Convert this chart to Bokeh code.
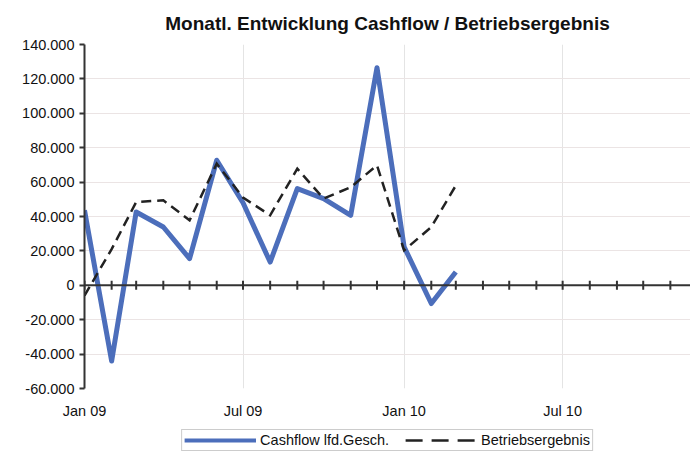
import math
from datetime import datetime, timedelta
import pandas as pd
from bokeh.plotting import figure
from bokeh.layouts import column
from bokeh.models import (MonthsTicker, DatetimeTickFormatter, FixedTicker, Span,
                          CustomJSTickFormatter, Legend, LegendItem, Range1d, ColumnDataSource)
from bokeh.embed import file_html
from bokeh.resources import INLINE

# ---- data ----
months = ["2009-01", "2009-02", "2009-03", "2009-04", "2009-05", "2009-06", "2009-07",
          "2009-08", "2009-09", "2009-10", "2009-11", "2009-12", "2010-01", "2010-02", "2010-03"]
cashflow = [43600, -44000, 42600, 33900, 15500, 72700, 48000, 13500, 56200, 50400, 40700,
            126500, 22300, -10600, 7700]
betriebsergebnis = [-6000, 21000, 48400, 49400, 37800, 70700, 51000, 40700, 67800, 50400,
                    57000, 69800, 20300, 33900, 58000]
y_ticks = [-60000, -40000, -20000, 0, 20000, 40000, 60000, 80000, 100000, 120000, 140000]
title_text = "Monatl. Entwicklung Cashflow / Betriebsergebnis"
label_cash = "Cashflow lfd.Gesch."
label_betr = "Betriebsergebnis"

dates = [datetime.strptime(m, "%Y-%m") for m in months]
src = ColumnDataSource(dict(x=dates, cash=cashflow, betr=betriebsergebnis))

FONT = "Liberation Sans"
BLUE = "#4c6ebb"
DARK = "#222222"
x_start = datetime(2009, 1, 1)
x_end = x_start + timedelta(days=692)
month_ticks = list(pd.date_range(x_start, x_end, freq="MS").to_pydatetime())

p = figure(width=690, height=425, x_axis_type="datetime",
           x_range=Range1d(x_start, x_end), y_range=Range1d(y_ticks[0], y_ticks[-1]),
           output_backend="svg", toolbar_location=None,
           min_border_left=84, min_border_right=0, min_border_top=43, min_border_bottom=37)
p.outline_line_color = None
p.background_fill_color = "white"
p.border_fill_color = "white"

# title
p.title.text = title_text
p.title.align = "center"
p.title.text_font = FONT
p.title.text_font_size = "19px"
p.title.text_font_style = "bold"
p.title.text_color = "#111111"
p.title.standoff = 21

# y axis
yax = p.yaxis[0]
yax.ticker = FixedTicker(ticks=y_ticks)
yax.formatter = CustomJSTickFormatter(code="""
const s = Math.round(Math.abs(tick)).toString().replace(/\\B(?=(\\d{3})+(?!\\d))/g, '.');
return (tick < 0 ? '-' : '') + s;
""")
yax.axis_line_color = "#333333"
yax.axis_line_width = 2
yax.major_tick_line_color = "#333333"
yax.major_tick_line_width = 2
yax.major_tick_out = 5
yax.major_tick_in = 0
yax.minor_tick_line_color = None
yax.major_label_text_font = FONT
yax.major_label_text_font_size = "14.5px"
yax.major_label_text_color = "#111111"
yax.major_label_standoff = 5

# bottom date labels
xax = p.xaxis[0]
xax.ticker = MonthsTicker(months=[0, 6])
xax.formatter = DatetimeTickFormatter(months="%b %y", days="%b %y", years="%b %y")
xax.axis_line_color = None
xax.major_tick_line_color = None
xax.minor_tick_line_color = None
xax.major_label_text_font = FONT
xax.major_label_text_font_size = "14.5px"
xax.major_label_text_color = "#111111"
xax.major_label_standoff = 8

# grids
p.xgrid.ticker = MonthsTicker(months=[0, 6])
p.xgrid.grid_line_color = "#e4e4e4"
p.xgrid.grid_line_width = 1
p.ygrid.ticker = FixedTicker(ticks=y_ticks)
p.ygrid.grid_line_color = "#ebe4e4"
p.ygrid.grid_line_width = 1

# zero line with monthly ticks
p.add_layout(Span(location=0, dimension="width", line_color="#333333", line_width=2))
p.scatter(x=month_ticks, y=[0] * len(month_ticks), marker="dash", angle=math.pi / 2,
          size=9, line_color="#333333", line_width=2)

# lines
r_cash = p.line("x", "cash", source=src, line_color=BLUE, line_width=5, line_join="round")
r_betr = p.line("x", "betr", source=src, line_color=DARK, line_width=2.5,
                line_dash="10 6", line_join="miter")

# legend strip below the chart (legend-only renderers lie outside the visible range)
pl = figure(width=690, height=28, x_range=Range1d(0, 1), y_range=Range1d(0, 1),
            output_backend="svg", toolbar_location=None,
            x_axis_location=None, y_axis_location=None,
            min_border_left=84, min_border_right=0, min_border_top=0, min_border_bottom=0)
pl.outline_line_color = None
pl.xgrid.visible = False
pl.ygrid.visible = False
lc = pl.line(x=[5, 6], y=[5, 6], line_color=BLUE, line_width=4)
lb = pl.line(x=[5, 6], y=[5, 6], line_color=DARK, line_width=2.5, line_dash="17 9")
legend = Legend(items=[LegendItem(label=label_cash, renderers=[lc]),
                       LegendItem(label=label_betr, renderers=[lb])],
                orientation="horizontal", location="top_center",
                label_text_font=FONT, label_text_font_size="14.5px", label_text_color="#111111",
                glyph_width=72, glyph_height=14, label_standoff=4, spacing=16,
                padding=2, margin=4,
                border_line_color="#999999", border_line_width=1,
                background_fill_color="white", background_fill_alpha=1)
pl.add_layout(legend, "center")

open("out.html", "w").write(file_html(column(p, pl), INLINE))
